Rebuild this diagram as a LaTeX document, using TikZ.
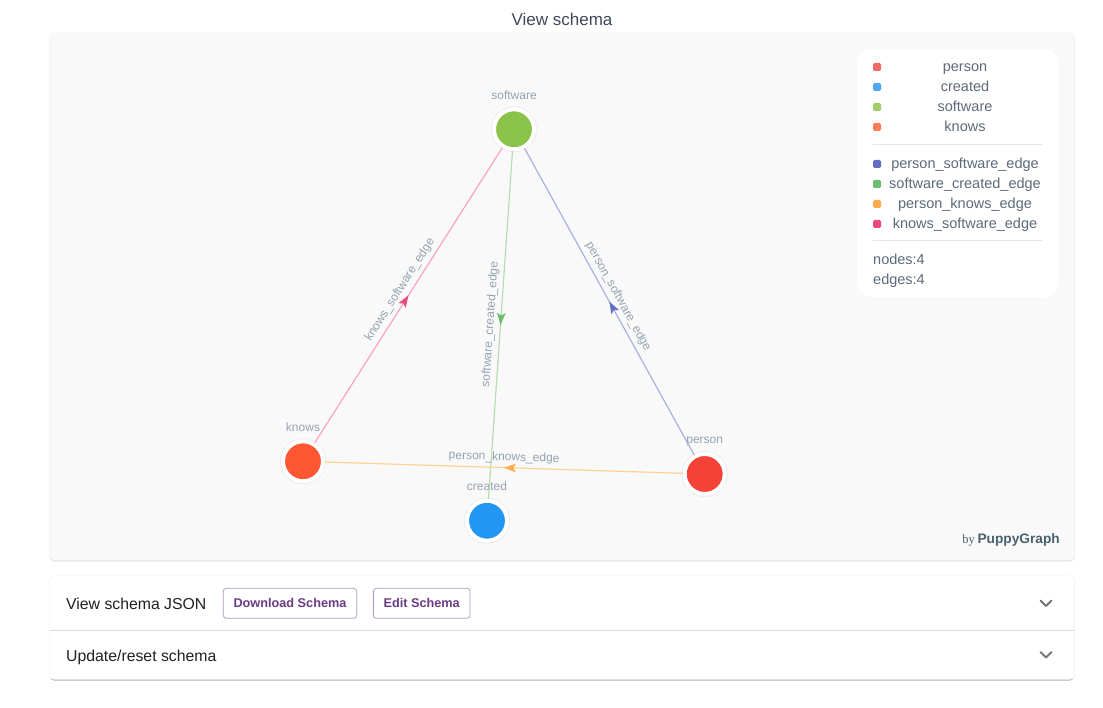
\documentclass[tikz,border=0pt]{standalone}
\usepackage{fontspec}
\setmainfont{Liberation Sans}
\newfontfamily\byfont{Liberation Serif}
\usetikzlibrary{arrows.meta}
\usetikzlibrary{decorations.markings}

\definecolor{panelbg}{HTML}{F9F9F9}
\definecolor{titlegray}{HTML}{3F4958}
\definecolor{legendtext}{HTML}{5E6A79}
\definecolor{labelgray}{HTML}{95A3B1}
\definecolor{rulegray}{HTML}{E3E5E8}
\definecolor{personfill}{HTML}{F44336}
\definecolor{createdfill}{HTML}{2196F3}
\definecolor{softwarefill}{HTML}{8BC34A}
\definecolor{knowsfill}{HTML}{FF5733}
\definecolor{personkey}{HTML}{F26B65}
\definecolor{createdkey}{HTML}{4DA6F2}
\definecolor{softwarekey}{HTML}{9DCE6A}
\definecolor{knowskey}{HTML}{FF7D57}
\definecolor{psekey}{HTML}{6170C2}
\definecolor{scekey}{HTML}{6CBD6E}
\definecolor{pkekey}{HTML}{FFAB4F}
\definecolor{ksekey}{HTML}{EE4A7F}
\definecolor{pseline}{HTML}{AAB1E0}
\definecolor{sceline}{HTML}{B6DFB1}
\definecolor{pkeline}{HTML}{FFD294}
\definecolor{kseline}{HTML}{F7A3C4}
\definecolor{btnborder}{HTML}{B29BC3}
\definecolor{btntext}{HTML}{6B3B83}
\definecolor{brandgray}{HTML}{4A6170}
\definecolor{chevgray}{HTML}{757575}

\tikzset{
  vertex/.style={circle,minimum size=40pt,inner sep=0pt,draw=white,line width=4pt,
    preaction={draw=black!7,line width=6pt}},
  vlabel/.style={font=\fontsize{12}{14}\selectfont,text=labelgray,inner sep=0pt,
    text depth=0pt,label distance=8pt},
  elabel/.style={font=\fontsize{12}{14}\selectfont,text=labelgray,sloped,above,
    inner sep=0pt,text depth=0pt,outer ysep=7pt},
  edge/.style={line width=1.2pt},
  midarrow/.style={postaction={decorate},decoration={markings,
    mark=at position 0.5 with {\arrow{Stealth[length=12pt,width=8.5pt,inset=2.5pt,color=#1]}}}},
  backarrow/.style={postaction={decorate},decoration={markings,
    mark=at position 0.5 with {\pgftransformxshift{12pt}\arrow{Stealth[reversed,length=12pt,width=8.5pt,inset=2.5pt,color=#1]}}}},
  keybox/.style={rounded corners=1.5pt},
  keytext/.style={font=\fontsize{14.5}{17}\selectfont,text=legendtext,anchor=base,inner sep=0pt},
  btn/.style={draw=btnborder,line width=0.8pt,rounded corners=3pt,minimum height=30pt,
    font=\fontsize{12.7}{15}\selectfont\bfseries,text=btntext,inner sep=0pt},
  rowtext/.style={font=\fontsize{15.8}{18}\selectfont,text=black!87,anchor=base west,inner sep=0pt}
}

\begin{document}
\begin{tikzpicture}[x=1pt,y=-1pt,line cap=round,line join=round]
\useasboundingbox (0,0) rectangle (1103,708);
\fill[white] (0,0) rectangle (1103,708);

% title
\node[font=\fontsize{17}{20}\selectfont,text=titlegray,anchor=base,inner sep=0pt] (title) at (562,26) {View schema};

% schema panel
\fill[black!9,rounded corners=4pt] (49.5,33) rectangle (1074.5,561.5);
\fill[panelbg,rounded corners=4pt] (50,32.5) rectangle (1074,560);

% legend
\fill[white,rounded corners=14pt] (857,49.5) rectangle (1058,297);
\fill[personkey,keybox] (873,63) rectangle (881,71);
\fill[createdkey,keybox] (873,83) rectangle (881,91);
\fill[softwarekey,keybox] (873,103) rectangle (881,111);
\fill[knowskey,keybox] (873,123) rectangle (881,131);
\node[keytext] (kperson) at (965,72) {person};
\node[keytext] (kcreated) at (965,92) {created};
\node[keytext] (ksoftware) at (965,112) {software};
\node[keytext] (kknows) at (965,132) {knows};
\draw[rulegray,line width=1pt] (873,144.5) -- (1042,144.5);
\fill[psekey,keybox] (873,160) rectangle (881,168);
\fill[scekey,keybox] (873,180) rectangle (881,188);
\fill[pkekey,keybox] (873,200) rectangle (881,208);
\fill[ksekey,keybox] (873,220) rectangle (881,228);
\node[keytext] (kpse) at (965,168.5) {person\_software\_edge};
\node[keytext] (ksce) at (965,188.5) {software\_created\_edge};
\node[keytext] (kpke) at (965,208.5) {person\_knows\_edge};
\node[keytext] (kkse) at (965,228.5) {knows\_software\_edge};
\draw[rulegray,line width=1pt] (873,240.5) -- (1042,240.5);
\node[keytext,anchor=base west] (nodecount) at (873,265) {nodes:4};
\node[keytext,anchor=base west] (edgecount) at (873,285) {edges:4};

% vertices
\node[vertex,fill=softwarefill,label={[vlabel]above:software}] (sw) at (514,129.3) {};
\node[vertex,fill=knowsfill,label={[vlabel]above:knows}] (kn) at (303,461.3) {};
\node[vertex,fill=personfill,label={[vlabel]above:person}] (pe) at (704.7,474) {};
\node[vertex,fill=createdfill,label={[vlabel]above:created}] (cr) at (487,520.7) {};

% edges
\draw[edge,kseline,midarrow=ksekey] (kn) -- node[elabel] (lkse) {knows\_software\_edge} (sw);
\draw[edge,sceline,backarrow=scekey] (cr) -- node[elabel] (lsce) {software\_created\_edge} (sw);
\draw[edge,pseline,backarrow=psekey] (sw) -- node[elabel] (lpse) {person\_software\_edge} (pe);
\draw[edge,pkeline,backarrow=pkekey] (kn) -- node[elabel] (lpke) {person\_knows\_edge} (pe);

% brand
\node[anchor=base east,inner sep=0pt,text=brandgray] (brand) at (1060,543) {{\byfont\fontsize{12.5}{14}\selectfont by} {\fontsize{13.7}{16}\selectfont\bfseries PuppyGraph}};

% lower panel
\fill[black!30,rounded corners=4pt] (50,577) rectangle (1074,680.5);
\fill[black!5,rounded corners=4pt] (49.5,575.5) rectangle (1074.5,679.5);
\fill[white,rounded corners=4pt] (50,576) rectangle (1074,679);
\draw[black!14,line width=1pt] (50,630.5) -- (1074,630.5);
\node[rowtext] (jsonrow) at (66,609) {View schema JSON};
\node[btn,minimum width=133.4pt] (dlbtn) at (290,603.3) {Download Schema};
\node[btn,minimum width=96.7pt] (editbtn) at (421.7,603.3) {Edit Schema};
\node[rowtext] (resetrow) at (66,661) {Update/reset schema};
\draw[chevgray,line width=1.8pt] (1040.5,600.5) -- (1046,606) -- (1051.5,600.5);
\draw[chevgray,line width=1.8pt] (1040.5,652) -- (1046,657.5) -- (1051.5,652);
\end{tikzpicture}
\end{document}
